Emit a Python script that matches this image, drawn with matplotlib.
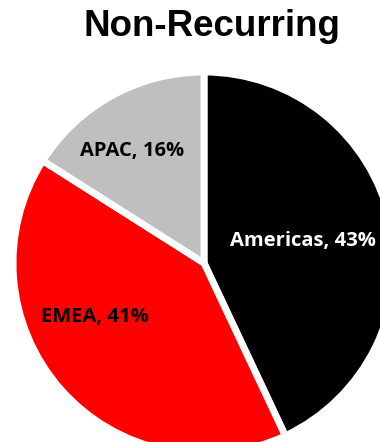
import numpy as np
import matplotlib.pyplot as plt

regions = ["Americas", "EMEA", "APAC"]
shares = [43, 41, 16]
colors = ["#000000", "#ff0000", "#bfbfbf"]
text_colors = ["white", "black", "black"]

# label placement: distance from centre (fraction of radius) and angular nudge (deg)
label_dist = [0.53, 0.64, 0.70]
label_shift = [0, -15, 4]

fig = plt.figure(figsize=(3.8, 4.42), dpi=100)
ax = fig.add_axes([0, 0, 1, 1])

cx, cy, r = 204, 179, 191
wedges, _ = ax.pie(shares, colors=colors, startangle=90, counterclock=False,
                   center=(cx, cy), radius=r, frame=True,
                   wedgeprops=dict(edgecolor="white", linewidth=5))
ax.set_xlim(0, 380)
ax.set_ylim(0, 442)
ax.set_aspect("equal")
ax.axis("off")

for w, name, val, tc, d, s in zip(wedges, regions, shares, text_colors,
                                   label_dist, label_shift):
    mid = np.deg2rad((w.theta1 + w.theta2) / 2 + s)
    x = cx + d * r * np.cos(mid)
    y = cy + d * r * np.sin(mid)
    ax.text(x, y, f"{name}, {val}%", ha="center", va="center", color=tc,
            fontsize=14.5, fontweight="bold", family="Open Sans")

fig.text(0.558, 0.94, "Non-Recurring", ha="center", va="center",
         fontsize=26.5, fontweight="bold", family="Liberation Sans")

fig.savefig("out.png", dpi=100)
